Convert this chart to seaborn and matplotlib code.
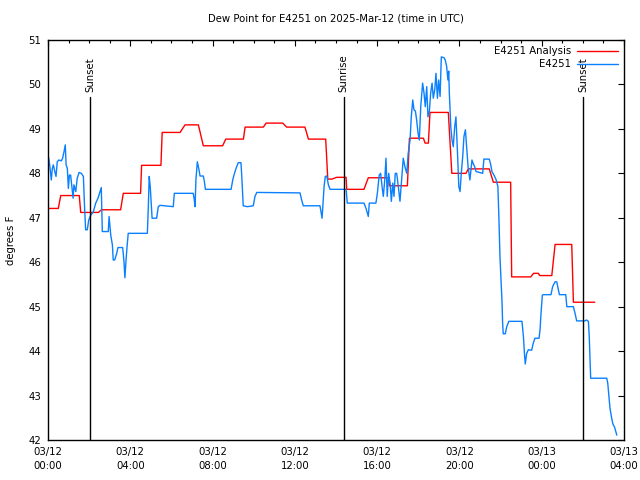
import numpy as np
import pandas as pd
import matplotlib
matplotlib.use("Agg")
import matplotlib.pyplot as plt
import seaborn as sns

# hours after 2025-03-12 00:00 UTC, dew point in F
analysis_hours = [0.00, 0.50, 0.62, 1.52, 1.59, 2.45, 2.60, 3.53, 3.66, 4.50,
                  4.55, 5.49, 5.55, 6.42, 6.66, 7.31, 7.55, 8.49, 8.64, 9.50,
                  9.58, 10.47, 10.60, 11.41, 11.60, 12.49, 12.66, 13.50, 13.60, 13.80,
                  14.03, 14.49, 14.52, 15.36, 15.57, 16.55, 16.60, 17.47, 17.57, 18.25,
                  18.33, 18.49, 18.57, 19.46, 19.63, 20.32, 20.43, 21.45, 21.65, 22.49,
                  22.54, 23.47, 23.60, 23.84, 23.90, 24.49, 24.65, 25.46, 25.54, 26.58]
analysis_dew = [47.21, 47.21, 47.50, 47.50, 47.12, 47.12, 47.18, 47.18, 47.55, 47.55,
                48.18, 48.18, 48.92, 48.92, 49.09, 49.09, 48.62, 48.62, 48.77, 48.77,
                49.04, 49.04, 49.13, 49.13, 49.04, 49.04, 48.77, 48.77, 47.87, 47.87,
                47.91, 47.91, 47.64, 47.64, 47.90, 47.90, 47.72, 47.72, 48.79, 48.79,
                48.68, 48.68, 49.37, 49.37, 48.00, 48.00, 48.10, 48.10, 47.80, 47.80,
                45.67, 45.67, 45.75, 45.75, 45.70, 45.70, 46.40, 46.40, 45.10, 45.10]

obs_hours = [0.00, 0.05, 0.10, 0.16, 0.21, 0.26, 0.33, 0.39, 0.45, 0.53,
             0.65, 0.71, 0.78, 0.84, 0.88, 0.94, 0.99, 1.04, 1.10, 1.15,
             1.22, 1.26, 1.35, 1.42, 1.51, 1.62, 1.72, 1.78, 1.83, 1.91,
             1.98, 2.08, 2.20, 2.32, 2.43, 2.53, 2.59, 2.64, 2.93, 2.97,
             3.05, 3.13, 3.17, 3.24, 3.34, 3.40, 3.63, 3.69, 3.74, 3.79,
             3.85, 3.90, 4.83, 4.88, 4.92, 4.97, 5.06, 5.28, 5.36, 5.44,
             6.09, 6.14, 7.06, 7.10, 7.15, 7.19, 7.26, 7.34, 7.39, 7.55,
             7.60, 7.65, 8.90, 8.98, 9.04, 9.14, 9.25, 9.38, 9.42, 9.49,
             9.69, 9.98, 10.06, 10.15, 12.25, 12.33, 12.41, 13.22, 13.27, 13.32,
             13.35, 13.42, 13.48, 13.55, 13.63, 13.71, 14.49, 14.55, 15.36, 15.46,
             15.57, 15.62, 15.94, 16.01, 16.10, 16.17, 16.24, 16.30, 16.37, 16.43,
             16.49, 16.56, 16.63, 16.69, 16.76, 16.82, 16.88, 16.95, 17.03, 17.11,
             17.19, 17.27, 17.35, 17.44, 17.51, 17.60, 17.66, 17.73, 17.79, 17.86,
             17.92, 17.99, 18.05, 18.12, 18.21, 18.28, 18.34, 18.41, 18.47, 18.54,
             18.60, 18.67, 18.73, 18.80, 18.86, 18.93, 18.99, 19.06, 19.12, 19.25,
             19.31, 19.38, 19.44, 19.48, 19.51, 19.58, 19.64, 19.70, 19.77, 19.83,
             19.90, 19.97, 20.03, 20.09, 20.16, 20.22, 20.29, 20.35, 20.42, 20.51,
             20.61, 20.67, 20.74, 20.81, 21.13, 21.19, 21.45, 21.52, 21.58, 21.68,
             21.78, 21.87, 21.92, 21.97, 22.02, 22.07, 22.10, 22.13, 22.23, 22.30,
             22.40, 23.04, 23.11, 23.16, 23.20, 23.27, 23.35, 23.51, 23.59, 23.67,
             23.87, 23.92, 23.96, 24.03, 24.08, 24.45, 24.53, 24.65, 24.73, 24.81,
             24.86, 25.17, 25.22, 25.54, 25.62, 25.70, 26.10, 26.18, 26.27, 26.31,
             26.38, 27.16, 27.21, 27.26, 27.32, 27.39, 27.46, 27.54, 27.65]
obs_dew = [48.41, 48.30, 48.11, 47.85, 48.11, 48.19, 48.04, 47.93, 48.26, 48.30,
           48.28, 48.34, 48.49, 48.64, 48.19, 48.11, 47.66, 47.96, 47.96, 47.74,
           47.44, 47.74, 47.59, 47.89, 48.02, 48.00, 47.93, 47.21, 46.73, 46.73,
           46.95, 47.06, 47.13, 47.33, 47.44, 47.59, 47.68, 46.69, 46.69, 47.03,
           46.61, 46.39, 46.05, 46.05, 46.20, 46.33, 46.33, 46.03, 45.65, 46.03,
           46.39, 46.65, 46.65, 47.29, 47.93, 47.70, 46.99, 46.99, 47.25, 47.28,
           47.25, 47.55, 47.55, 47.44, 47.25, 47.85, 48.26, 48.08, 47.94, 47.94,
           47.82, 47.64, 47.64, 47.85, 47.96, 48.11, 48.24, 48.24, 47.93, 47.27,
           47.25, 47.27, 47.48, 47.57, 47.56, 47.40, 47.27, 47.27, 47.14, 46.99,
           47.18, 47.70, 47.93, 47.94, 47.74, 47.64, 47.64, 47.33, 47.33, 47.21,
           47.03, 47.33, 47.33, 47.55, 47.96, 48.00, 47.70, 47.48, 47.85, 48.34,
           47.48, 48.00, 47.78, 47.37, 47.78, 47.48, 48.00, 48.00, 47.70, 47.37,
           47.85, 48.34, 48.15, 48.00, 48.45, 48.75, 49.27, 49.65, 49.43, 49.40,
           49.20, 48.90, 48.75, 49.50, 50.03, 49.80, 49.50, 49.95, 49.27, 49.40,
           49.80, 50.03, 49.69, 49.88, 50.25, 49.69, 50.10, 49.73, 50.62, 50.60,
           50.55, 50.40, 50.10, 50.30, 49.80, 49.05, 48.75, 48.60, 49.05, 49.27,
           48.53, 47.70, 47.59, 48.00, 48.38, 48.83, 48.98, 48.60, 48.15, 47.85,
           48.30, 48.22, 48.15, 48.04, 48.00, 48.32, 48.32, 48.20, 48.04, 47.96,
           47.86, 47.70, 46.99, 46.13, 45.60, 45.11, 44.63, 44.39, 44.39, 44.55,
           44.67, 44.67, 44.33, 43.95, 43.71, 43.95, 44.03, 44.02, 44.18, 44.29,
           44.29, 44.48, 44.81, 45.26, 45.27, 45.27, 45.45, 45.56, 45.56, 45.38,
           45.27, 45.27, 45.00, 45.00, 44.85, 44.68, 44.68, 44.70, 44.67, 44.33,
           43.39, 43.39, 43.28, 43.01, 42.71, 42.52, 42.36, 42.29, 42.11]

sun_hours = [2.04, 14.37, 26.02]
sun_labels = ["Sunset", "Sunrise", "Sunset"]

tick_hours = [0, 4, 8, 12, 16, 20, 24, 28]
tick_labels = ["03/12\n00:00", "03/12\n04:00", "03/12\n08:00", "03/12\n12:00",
               "03/12\n16:00", "03/12\n20:00", "03/13\n00:00", "03/13\n04:00"]

sns.set_style("white")
plt.rcParams["font.family"] = ["DejaVu Sans"]
plt.rcParams["font.size"] = 7.3
plt.rcParams["text.color"] = "black"
plt.rcParams["xtick.color"] = "black"
plt.rcParams["ytick.color"] = "black"
plt.rcParams["axes.labelcolor"] = "black"

fig = plt.figure(figsize=(6.4, 4.8), dpi=100)
ax = fig.add_axes([0.075, 0.0833, 0.9, 0.8334])

sns.lineplot(x=analysis_hours, y=analysis_dew, ax=ax, color="#ff0000", lw=1.0,
             estimator=None, sort=False, label="E4251 Analysis")
sns.lineplot(x=obs_hours, y=obs_dew, ax=ax, color="#0a80ff", lw=1.0,
             estimator=None, sort=False, label="E4251")

# sunrise / sunset markers
for h, lab in zip(sun_hours, sun_labels):
    ax.plot([h, h], [42, 49.72], color="black", lw=1.0)
    ax.text(h, 49.82, lab, rotation=90, ha="center", va="bottom", fontsize=7.3)

ax.set_xlim(0, 28)
ax.set_ylim(42, 51)
ax.set_xticks(tick_hours)
ax.set_xticklabels(tick_labels, linespacing=1.55)
ax.set_xticks(range(0, 29), minor=True)
ax.set_yticks(range(42, 52))
ax.tick_params(which="both", direction="in", top=True, right=True, labelsize=7.3)
ax.tick_params(which="major", length=4.5, width=0.8, pad=5)
ax.tick_params(which="minor", length=2.5, width=0.8)
for s in ax.spines.values():
    s.set_linewidth(1.0)
    s.set_color("black")

ax.set_xlabel("")
ax.set_ylabel("degrees F", fontsize=7.3, labelpad=9)
ax.set_title("Dew Point for E4251 on 2025-Mar-12 (time in UTC)", fontsize=7.3, pad=13)

ax.legend(loc="upper right", frameon=False, markerfirst=False, handlelength=4.0,
          fontsize=7.3, borderaxespad=0.2, labelspacing=0.3, handletextpad=0.6)

fig.savefig("out.png", dpi=100)
